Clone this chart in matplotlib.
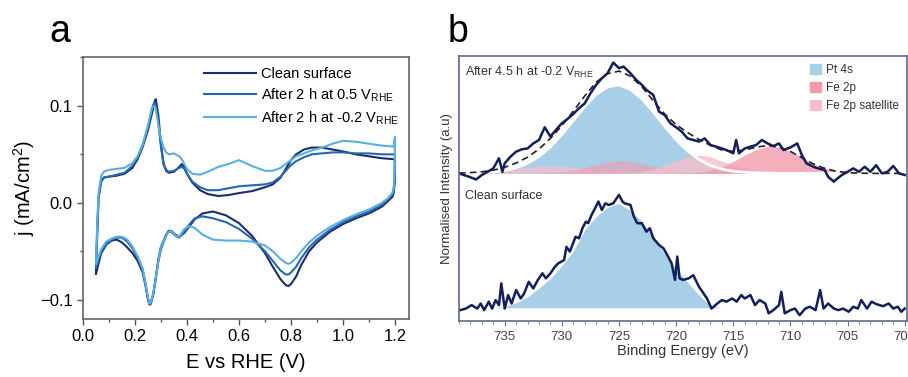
import numpy as np
import matplotlib
matplotlib.use("Agg")
import matplotlib.pyplot as plt
from matplotlib.patches import Patch
from matplotlib.ticker import MultipleLocator

plt.rcParams['font.family'] = ['Liberation Sans', 'DejaVu Sans']

# ---------------- Panel a: cyclic voltammograms ----------------
E_anodic = [0.05, 0.055, 0.06, 0.07, 0.08, 0.10, 0.13, 0.16, 0.19, 0.21, 0.23, 0.25, 0.265, 0.275,
            0.28, 0.29, 0.30, 0.31, 0.32, 0.33, 0.35, 0.37, 0.38, 0.39, 0.40, 0.42, 0.45, 0.48,
            0.52, 0.56, 0.60, 0.65, 0.70, 0.73, 0.76, 0.78, 0.80, 0.82, 0.85, 0.88, 0.92, 0.96,
            1.00, 1.05, 1.10, 1.15, 1.195, 1.20]
E_cathodic = [1.20, 1.199, 1.195, 1.19, 1.17, 1.15, 1.10, 1.05, 1.00, 0.95, 0.90, 0.87, 0.84, 0.82,
              0.80, 0.79, 0.78, 0.76, 0.73, 0.70, 0.65, 0.60, 0.55, 0.50, 0.46, 0.43, 0.41, 0.39,
              0.37, 0.355, 0.34, 0.33, 0.32, 0.30, 0.29, 0.28, 0.27, 0.26, 0.255, 0.25, 0.24, 0.23,
              0.21, 0.19, 0.17, 0.15, 0.13, 0.11, 0.09, 0.07, 0.05]

j_clean_anodic = [-0.073, -0.030, 0.005, 0.022, 0.026, 0.027, 0.028, 0.030, 0.036, 0.045, 0.058, 0.075,
                  0.092, 0.104, 0.107, 0.090, 0.060, 0.040, 0.033, 0.031, 0.032, 0.037, 0.040, 0.037,
                  0.030, 0.021, 0.013, 0.009, 0.007, 0.008, 0.010, 0.012, 0.016, 0.019, 0.026, 0.035,
                  0.044, 0.050, 0.055, 0.057, 0.057, 0.055, 0.053, 0.050, 0.048, 0.046, 0.045, 0.045]
j_clean_cathodic = [0.045, 0.020, 0.010, 0.006, 0.001, -0.004, -0.011, -0.016, -0.022, -0.030, -0.041,
                    -0.050, -0.064, -0.076, -0.084, -0.086, -0.085, -0.079, -0.066, -0.052, -0.034,
                    -0.021, -0.013, -0.009, -0.011, -0.017, -0.024, -0.031, -0.035, -0.033, -0.029,
                    -0.029, -0.033, -0.048, -0.060, -0.078, -0.095, -0.104, -0.105, -0.100, -0.085,
                    -0.072, -0.060, -0.052, -0.046, -0.041, -0.038, -0.039, -0.043, -0.052, -0.073]

j_05_anodic = [-0.067, -0.025, 0.006, 0.023, 0.026, 0.027, 0.029, 0.031, 0.038, 0.047, 0.060, 0.078,
               0.097, 0.104, 0.100, 0.083, 0.058, 0.040, 0.034, 0.032, 0.033, 0.036, 0.037, 0.035,
               0.030, 0.022, 0.016, 0.013, 0.013, 0.015, 0.017, 0.018, 0.019, 0.021, 0.027, 0.033,
               0.039, 0.043, 0.047, 0.050, 0.051, 0.052, 0.052, 0.051, 0.051, 0.050, 0.050, 0.050]
j_05_cathodic = [0.050, 0.025, 0.013, 0.009, 0.003, -0.002, -0.009, -0.014, -0.020, -0.028, -0.038,
                 -0.046, -0.057, -0.066, -0.072, -0.074, -0.074, -0.070, -0.060, -0.050, -0.037,
                 -0.027, -0.020, -0.016, -0.014, -0.016, -0.022, -0.030, -0.036, -0.034, -0.030,
                 -0.030, -0.033, -0.045, -0.058, -0.077, -0.095, -0.105, -0.104, -0.098, -0.083,
                 -0.070, -0.057, -0.047, -0.040, -0.036, -0.036, -0.038, -0.042, -0.050, -0.067]

j_m02_anodic = [-0.063, -0.020, 0.010, 0.028, 0.032, 0.034, 0.035, 0.036, 0.041, 0.048, 0.060, 0.080,
                0.098, 0.100, 0.097, 0.080, 0.066, 0.057, 0.052, 0.050, 0.051, 0.048, 0.045, 0.040,
                0.035, 0.030, 0.029, 0.032, 0.037, 0.040, 0.044, 0.038, 0.033, 0.033, 0.036, 0.040,
                0.044, 0.048, 0.051, 0.054, 0.057, 0.061, 0.064, 0.063, 0.061, 0.059, 0.058, 0.068]
j_m02_cathodic = [0.068, 0.035, 0.015, 0.010, 0.004, 0.000, -0.007, -0.012, -0.018, -0.025, -0.034,
                  -0.041, -0.050, -0.057, -0.062, -0.063, -0.062, -0.058, -0.050, -0.044, -0.040,
                  -0.039, -0.039, -0.038, -0.033, -0.026, -0.024, -0.027, -0.035, -0.034, -0.029,
                  -0.030, -0.034, -0.046, -0.060, -0.078, -0.094, -0.103, -0.104, -0.098, -0.083,
                  -0.068, -0.055, -0.045, -0.038, -0.035, -0.035, -0.037, -0.040, -0.048, -0.063]

cv_labels = ["Clean surface", "After 2 h at 0.5 V$_{\\mathregular{RHE}}$",
             "After 2 h at -0.2 V$_{\\mathregular{RHE}}$"]
cv_colors = ["#1b2d6b", "#2468b2", "#5aaee2"]

# ---------------- Panel b: XPS spectra ----------------
BE_grid = list(range(739, 699, -1))
pt4s_top = [0.000, 0.001, 0.002, 0.005, 0.011, 0.021, 0.038, 0.064, 0.100, 0.147, 0.199, 0.252, 0.298,
            0.326, 0.334, 0.317, 0.281, 0.232, 0.178, 0.127, 0.085, 0.052, 0.030, 0.016, 0.008, 0.004,
            0.002, 0.001, 0, 0, 0, 0, 0, 0, 0, 0, 0, 0, 0, 0]
fe2p_32_top = [0] * 19 + [0.001, 0.002, 0.005, 0.012, 0.025, 0.045, 0.069, 0.090, 0.102, 0.099, 0.083,
                          0.059, 0.036, 0.019, 0.008, 0.003, 0.001, 0, 0, 0, 0]
fe2p_12_top = [0] * 7 + [0.001, 0.003, 0.006, 0.013, 0.022, 0.034, 0.043, 0.048, 0.046, 0.038, 0.027,
                         0.016, 0.009, 0.004, 0.002, 0.001] + [0] * 17
sat1_top = [0.001, 0.002, 0.004, 0.007, 0.012, 0.018, 0.023, 0.027, 0.029, 0.027, 0.023, 0.018, 0.012,
            0.007, 0.004, 0.002, 0.001] + [0] * 23
sat2_top = [0] * 15 + [0.002, 0.007, 0.015, 0.030, 0.047, 0.063, 0.069, 0.063, 0.047, 0.030, 0.015,
                       0.007, 0.002] + [0] * 12
pt4s_bottom = [0] * 4 + [0.005, 0.020, 0.042, 0.075, 0.111, 0.160, 0.215, 0.295, 0.345, 0.380, 0.394,
                         0.370, 0.330, 0.270, 0.210, 0.150, 0.100, 0.052, 0.010] + [0] * 17

BE_top = [739.0, 738.1, 737.5, 737.0, 736.5, 736.0, 735.5, 735.2, 735.0, 734.5, 734.0, 733.5, 733.0,
          732.5, 732.0, 731.5, 731.0, 730.4, 730.0, 729.6, 729.0, 728.5, 728.0, 727.5, 727.0, 726.5,
          726.0, 725.5, 725.0, 724.6, 724.0, 723.5, 723.0, 722.6, 722.0, 721.5, 721.0, 720.5, 720.0,
          719.5, 719.0, 718.5, 718.0, 717.5, 717.0, 716.5, 716.0, 715.6, 715.0, 714.75, 714.5, 714.0,
          713.5, 713.0, 712.5, 712.0, 711.5, 711.0, 710.6, 710.0, 709.4, 709.0, 708.6, 708.0, 707.6,
          707.0, 706.7, 706.2, 706.0, 705.5, 705.0, 704.5, 704.0, 703.5, 703.0, 702.5, 702.0, 701.5,
          701.0, 700.5, 700.0]
I_top = [0.000, -0.013, -0.023, -0.006, 0.006, 0.019, 0.057, 0.006, 0.038, 0.063, 0.082, 0.091, 0.094,
         0.113, 0.126, 0.174, 0.139, 0.170, 0.189, 0.202, 0.224, 0.246, 0.264, 0.302, 0.334, 0.359,
         0.378, 0.418, 0.397, 0.403, 0.378, 0.353, 0.334, 0.315, 0.296, 0.233, 0.220, 0.189, 0.174,
         0.157, 0.132, 0.126, 0.120, 0.132, 0.107, 0.101, 0.094, 0.088, 0.076, 0.126, 0.076, 0.094,
         0.101, 0.107, 0.126, 0.113, 0.103, 0.113, 0.088, 0.098, 0.113, 0.069, 0.038, 0.025, 0.019,
         0.013, -0.013, -0.031, -0.023, -0.006, 0.006, 0.019, 0.006, 0.025, 0.006, 0.031, 0.000, 0.006,
         0.028, 0.000, -0.006]

BE_bottom = [738.9, 738.4, 737.9, 737.4, 737.1, 736.8, 736.4, 736.1, 735.8, 735.5, 735.3, 735.0, 734.7,
             734.4, 734.0, 733.6, 733.3, 732.9, 732.5, 732.1, 731.7, 731.4, 731.0, 730.6, 730.3, 729.8,
             729.6, 729.3, 728.8, 728.5, 728.2, 727.9, 727.7, 727.4, 727.1, 726.8, 726.5, 726.2, 725.9,
             725.5, 725.0, 724.7, 724.5, 724.0, 723.7, 723.4, 723.0, 722.6, 722.3, 722.0, 721.5, 721.1,
             720.7, 720.4, 720.1, 719.9, 719.7, 719.4, 718.9, 718.5, 718.0, 717.6, 717.3, 716.9, 716.4,
             716.0, 715.6, 715.1, 714.7, 714.3, 714.0, 713.5, 713.1, 712.7, 712.2, 711.9, 711.5, 711.0,
             710.8, 710.5, 710.0, 709.6, 709.2, 708.7, 708.3, 707.8, 707.4, 707.1, 706.7, 706.2, 705.8,
             705.4, 704.9, 704.5, 704.1, 703.8, 703.3, 702.9, 702.5, 701.9, 701.4, 701.0, 700.6, 700.3,
             700.0]
I_bottom = [-0.009, -0.003, 0.010, -0.003, 0.016, -0.009, 0.023, -0.003, 0.029, 0.010, 0.092, -0.003,
            0.048, 0.016, 0.067, 0.035, 0.054, 0.098, 0.073, 0.105, 0.130, 0.111, 0.130, 0.155, 0.168,
            0.180, 0.230, 0.212, 0.268, 0.262, 0.300, 0.325, 0.319, 0.350, 0.375, 0.401, 0.369, 0.394,
            0.388, 0.394, 0.426, 0.401, 0.394, 0.388, 0.344, 0.319, 0.319, 0.287, 0.300, 0.262, 0.237,
            0.224, 0.193, 0.168, 0.105, 0.193, 0.111, 0.105, 0.111, 0.123, 0.079, 0.054, 0.035, -0.003,
            0.016, 0.029, 0.023, 0.035, 0.023, 0.048, 0.035, 0.048, 0.010, 0.029, 0.016, -0.021, -0.009,
            0.010, 0.060, -0.021, -0.009, -0.003, -0.028, -0.003, 0.004, -0.009, 0.067, -0.003, 0.016,
            -0.003, -0.009, -0.003, -0.015, 0.004, -0.003, 0.029, -0.003, 0.023, 0.014, 0.006, 0.016,
            -0.003, 0.004, -0.015, -0.003]

offset_top = 0.557
offset_bottom = 0.050

# ---------------- Figure ----------------
fig = plt.figure(figsize=(9.08, 3.77), dpi=100)

axa = fig.add_axes([0.0914, 0.1538, 0.359, 0.695])
curves = [(j_clean_anodic, j_clean_cathodic), (j_05_anodic, j_05_cathodic), (j_m02_anodic, j_m02_cathodic)]
for (ja, jc), lab, col in zip(curves, cv_labels, cv_colors):
    axa.plot(np.r_[E_anodic, E_cathodic], np.r_[ja, jc], color=col, lw=1.5, label=lab)
axa.set_xlim(0.0, 1.254)
axa.set_ylim(-0.12, 0.1505)
axa.xaxis.set_major_locator(MultipleLocator(0.2))
axa.xaxis.set_minor_locator(MultipleLocator(0.1))
axa.yaxis.set_major_locator(MultipleLocator(0.1))
axa.yaxis.set_minor_locator(MultipleLocator(0.05))
axa.tick_params(which='both', direction='out', labelsize=12, color='#555555')
axa.tick_params(which='major', length=4, width=1)
axa.tick_params(which='minor', length=2.5, width=1)
for s in axa.spines.values():
    s.set_color('#666666')
    s.set_linewidth(1.2)
axa.set_xlabel("E vs RHE (V)", fontsize=14.5, labelpad=6)
axa.set_ylabel("j (mA/cm$^{\\mathregular{2}}$)", fontsize=14.5, labelpad=2)
axa.legend(loc='upper right', frameon=False, fontsize=10.5, handlelength=3.6, handletextpad=0.3,
           labelspacing=0.35, borderaxespad=0.3, bbox_to_anchor=(1.0, 1.0))
fig.text(0.066, 0.915, "a", fontsize=27, ha='center', va='center')
fig.text(0.505, 0.915, "b", fontsize=27, ha='center', va='center')

# Panel b
axb = fig.add_axes([0.5055, 0.1485, 0.4934, 0.7030])
BEg = np.array(BE_grid, dtype=float)
c_pt = "#a8cfe8"
c_fe = "#f29aab"
c_sat = "#f6bfcb"
axb.fill_between(BEg, offset_top, offset_top + np.array(pt4s_top), color=c_pt, lw=0)
axb.plot(BEg, offset_top + np.array(pt4s_top), color='white', lw=2)
axb.fill_between(BEg, offset_top, offset_top + np.array(sat1_top), color=c_sat, alpha=0.7, lw=0)
axb.fill_between(BEg, offset_top, offset_top + np.array(fe2p_12_top), color=c_fe, alpha=0.6, lw=0)
axb.fill_between(BEg, offset_top, offset_top + np.array(sat2_top), color=c_sat, alpha=0.8, lw=0)
axb.fill_between(BEg, offset_top, offset_top + np.array(fe2p_32_top), color=c_fe, alpha=0.8, lw=0)
envelope = (np.array(pt4s_top) + np.array(fe2p_32_top) + np.array(fe2p_12_top)
            + np.array(sat1_top) + np.array(sat2_top))
axb.plot(BEg, offset_top + envelope, color='#222222', lw=1.2, ls=(0, (4, 2.5)))
axb.plot(BE_top, offset_top + np.array(I_top), color='#131f5c', lw=1.8)

axb.fill_between(BEg, offset_bottom, offset_bottom + np.array(pt4s_bottom), color=c_pt, lw=0)
axb.plot(BEg, offset_bottom + np.array(pt4s_bottom), color='white', lw=1.2, alpha=0.8)
axb.plot(BE_bottom, offset_bottom + np.array(I_bottom), color='#131f5c', lw=1.8)

axb.set_xlim(739.0, 699.8)
axb.set_ylim(0, 1)
axb.set_yticks([])
axb.xaxis.set_major_locator(MultipleLocator(5))
axb.xaxis.set_minor_locator(MultipleLocator(1))
axb.tick_params(axis='x', which='both', direction='out', labelsize=9.5, labelcolor='#444444',
                color='#777777')
axb.tick_params(axis='x', which='major', length=3.5)
axb.tick_params(axis='x', which='minor', length=2)
for s in axb.spines.values():
    s.set_color('#5d6a96')
    s.set_linewidth(1.2)
axb.set_xlabel("Binding Energy (eV)", fontsize=10.5, color='#333333', labelpad=1)
axb.set_ylabel("Normalised Intensity (a.u)", fontsize=9.5, color='#333333', labelpad=4)
axb.text(0.013, 0.965, "After 4.5 h at -0.2 V$_{\\mathregular{RHE}}$", transform=axb.transAxes,
         fontsize=9, color='#333333', va='top')
axb.text(0.013, 0.495, "Clean surface", transform=axb.transAxes, fontsize=9, color='#333333', va='top')
handles = [Patch(color=c_pt), Patch(color=c_fe), Patch(color=c_sat)]
axb.legend(handles, ["Pt 4s", "Fe 2p", "Fe 2p satellite"], loc='upper right', frameon=False,
           fontsize=8.5, handlelength=0.9, handleheight=0.9, handletextpad=0.4, labelspacing=0.5,
           borderaxespad=0.3, labelcolor='#333333')

fig.savefig("out.png", dpi=100)
